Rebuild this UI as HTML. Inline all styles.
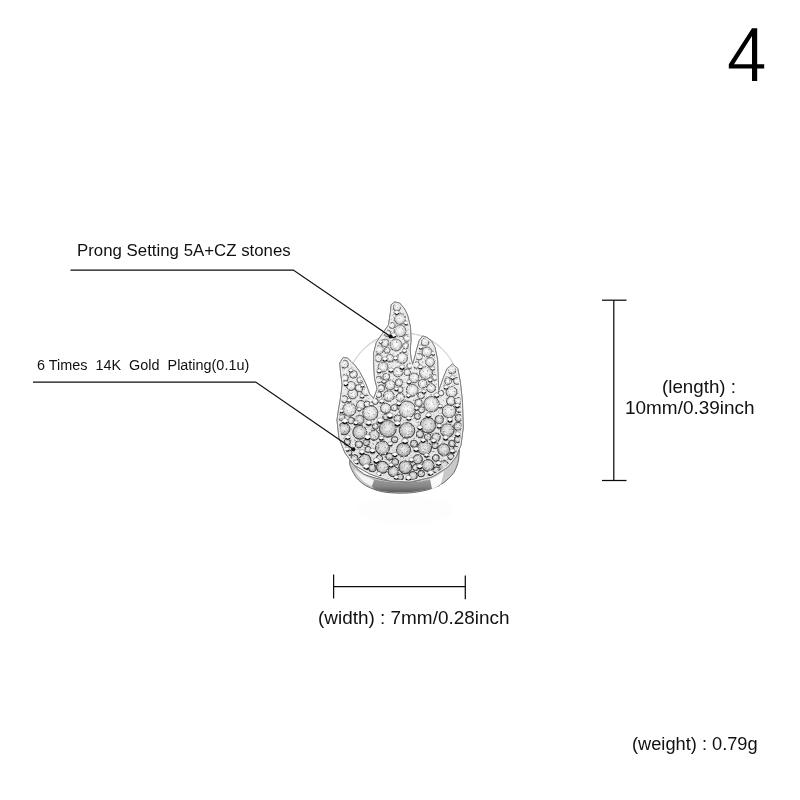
<!DOCTYPE html>
<html><head><meta charset="utf-8"><style>
html,body{margin:0;padding:0;background:#fff;}
body{width:800px;height:800px;position:relative;overflow:hidden;font-family:"Liberation Sans",sans-serif;color:#111;}
.t{position:absolute;white-space:pre;line-height:1;transform-origin:0 0;}
svg{position:absolute;left:0;top:0;}
</style></head><body>
<svg width="800" height="800" viewBox="0 0 800 800">
<defs>
<radialGradient id="st" cx="50%" cy="45%" r="55%"><stop offset="0" stop-color="#ffffff"/><stop offset="0.45" stop-color="#ececec"/><stop offset="0.8" stop-color="#c8c8c8"/><stop offset="1" stop-color="#6a6a6a"/></radialGradient>
<radialGradient id="bd" cx="42%" cy="32%" r="68%"><stop offset="0" stop-color="#ffffff"/><stop offset="0.45" stop-color="#f0f0f0"/><stop offset="0.75" stop-color="#909090"/><stop offset="1" stop-color="#1a1a1a"/></radialGradient>
<linearGradient id="shank" x1="0" y1="0" x2="0" y2="1"><stop offset="0" stop-color="#e8e8e8"/><stop offset="0.5" stop-color="#bdbdbd"/><stop offset="0.8" stop-color="#777"/><stop offset="1" stop-color="#333"/></linearGradient>
<clipPath id="fc"><path d="M394.75,302.00 L399.50,303.00 L404.00,308.00 L407.50,315.00 L410.50,327.00 L411.00,340.00 L410.20,350.00 L411.00,358.00 L412.60,364.50 L414.50,358.00 L416.50,350.00 L419.25,340.50 L422.75,336.00 L427.00,337.50 L431.50,341.00 L435.00,347.50 L437.60,359.75 L438.00,374.00 L438.80,390.50 L441.50,383.00 L444.00,376.00 L447.25,368.50 L452.50,364.10 L457.75,368.50 L460.40,382.50 L462.50,402.50 L463.20,428.00 L461.00,445.00 L456.00,457.00 L448.00,467.00 L432.00,477.00 L410.00,482.00 L390.00,481.00 L370.00,474.00 L354.00,465.00 L345.00,453.00 L339.00,438.00 L337.00,420.00 L338.30,411.00 L340.50,398.00 L342.20,385.00 L340.50,372.00 L339.80,363.00 L343.10,357.60 L347.50,358.20 L351.00,361.50 L355.50,366.00 L359.75,372.00 L363.50,379.00 L366.75,386.00 L369.50,394.00 L373.50,398.50 L377.20,389.00 L374.50,378.00 L373.75,365.00 L373.75,352.75 L376.40,342.25 L382.50,333.50 L388.60,324.75 L390.40,312.50 L391.25,304.60Z"/></clipPath>
<filter id="nz" x="0" y="0" width="100%" height="100%"><feTurbulence type="fractalNoise" baseFrequency="0.55" numOctaves="2" seed="5"/><feColorMatrix type="matrix" values="0 0 0 0 0  0 0 0 0 0  0 0 0 0 0  5 0 0 0 -2.9"/></filter>
<filter id="nz2" x="0" y="0" width="100%" height="100%"><feTurbulence type="fractalNoise" baseFrequency="0.6" numOctaves="2" seed="11"/><feColorMatrix type="matrix" values="0 0 0 0 1  0 0 0 0 1  0 0 0 0 1  5 0 0 0 -2.9"/></filter>
<linearGradient id="shd" x1="0" y1="0" x2="0" y2="1"><stop offset="0" stop-color="#a0a0a0"/><stop offset="0.6" stop-color="#858585"/><stop offset="1" stop-color="#5a5a5a"/></linearGradient>
<radialGradient id="st2" cx="50%" cy="45%" r="55%"><stop offset="0" stop-color="#f2f2f2"/><stop offset="0.45" stop-color="#dcdcdc"/><stop offset="0.8" stop-color="#b4b4b4"/><stop offset="1" stop-color="#4a4a4a"/></radialGradient>
<linearGradient id="dk" x1="0" y1="0" x2="0" y2="1"><stop offset="0" stop-color="#000" stop-opacity="0"/><stop offset="0.45" stop-color="#000" stop-opacity="0"/><stop offset="1" stop-color="#000" stop-opacity="0.05"/></linearGradient>
</defs>
<circle cx="403" cy="389" r="56" fill="none" stroke="#d6d6d6" stroke-width="1.3"/>
<path d="M349.75,464.6 C352,471 354,474 356.25,477.6 C360,482 364,485 369.25,487.4 C375,490 380,491.5 385.5,492.25 C393,493.2 400,493.3 408.25,493 C415,492.5 421,491.5 427.75,489.8 C434,488 439,485.5 444,482.5 C448,479.5 451,476 453.75,472.75 C456,469 457.5,465 458.6,459.75 L459.4,450 L455.4,456.5 C452,462 449,465 445.6,467.9 C441,471.5 436,474 431,476 C425,478.5 419,480.5 413,481.7 C405,482.5 396,482 388.75,480.9 C380,479.5 371,477 364.4,474.4 C358,470 354,466 349.75,459.75 Z" fill="#c9c9c9" stroke="#5a5a5a" stroke-width="0.9"/>
<path d="M372,479 C392,484 418,484 436,478 L440,486 C420,493 394,494 376,490 C372,488 370,484 372,479Z" fill="url(#shd)"/>
<path d="M354,469 C358,477 364,483 372,486 L374,480 C366,477 359,473 354,469Z" fill="#f4f4f4"/>
<path d="M430,479 C436,477 440,474 444,471 L441,484 C438,486 435,488 432,489Z" fill="#fafafa"/>
<ellipse cx="405" cy="510" rx="48" ry="14" fill="#fdfdfd"/>
<path d="M394.75,302.00 L399.50,303.00 L404.00,308.00 L407.50,315.00 L410.50,327.00 L411.00,340.00 L410.20,350.00 L411.00,358.00 L412.60,364.50 L414.50,358.00 L416.50,350.00 L419.25,340.50 L422.75,336.00 L427.00,337.50 L431.50,341.00 L435.00,347.50 L437.60,359.75 L438.00,374.00 L438.80,390.50 L441.50,383.00 L444.00,376.00 L447.25,368.50 L452.50,364.10 L457.75,368.50 L460.40,382.50 L462.50,402.50 L463.20,428.00 L461.00,445.00 L456.00,457.00 L448.00,467.00 L432.00,477.00 L410.00,482.00 L390.00,481.00 L370.00,474.00 L354.00,465.00 L345.00,453.00 L339.00,438.00 L337.00,420.00 L338.30,411.00 L340.50,398.00 L342.20,385.00 L340.50,372.00 L339.80,363.00 L343.10,357.60 L347.50,358.20 L351.00,361.50 L355.50,366.00 L359.75,372.00 L363.50,379.00 L366.75,386.00 L369.50,394.00 L373.50,398.50 L377.20,389.00 L374.50,378.00 L373.75,365.00 L373.75,352.75 L376.40,342.25 L382.50,333.50 L388.60,324.75 L390.40,312.50 L391.25,304.60Z" fill="#eaeaea" stroke="#777" stroke-width="1"/>
<g clip-path="url(#fc)">
<circle cx="407.0" cy="409.5" r="8.5" fill="url(#st)" stroke="#434343" stroke-width="0.82375"/>
<circle cx="431.5" cy="404.3" r="7.8" fill="url(#st)" stroke="#454545" stroke-width="0.8107500000000001"/>
<circle cx="387.8" cy="428.8" r="8.5" fill="url(#st2)" stroke="#3d3d3d" stroke-width="0.8720000000000001"/>
<circle cx="407.0" cy="430.5" r="7.8" fill="url(#st2)" stroke="#3d3d3d" stroke-width="0.87625"/>
<circle cx="428.0" cy="425.3" r="7.8" fill="url(#st2)" stroke="#3e3e3e" stroke-width="0.8632500000000001"/>
<circle cx="370.3" cy="413.0" r="7.6" fill="url(#st)" stroke="#424242" stroke-width="0.8325"/>
<circle cx="349.3" cy="409.5" r="6.8" fill="url(#st)" stroke="#434343" stroke-width="0.82375"/>
<circle cx="449.0" cy="411.3" r="6.8" fill="url(#st)" stroke="#434343" stroke-width="0.82825"/>
<circle cx="382.5" cy="448.0" r="7.0" fill="url(#st2)" stroke="#373737" stroke-width="0.92"/>
<circle cx="403.5" cy="449.8" r="7.0" fill="url(#st2)" stroke="#373737" stroke-width="0.9245000000000001"/>
<circle cx="424.5" cy="448.0" r="7.0" fill="url(#st2)" stroke="#373737" stroke-width="0.92"/>
<circle cx="443.8" cy="449.8" r="6.0" fill="url(#st2)" stroke="#373737" stroke-width="0.9245000000000001"/>
<circle cx="359.8" cy="432.3" r="7.0" fill="url(#st2)" stroke="#3c3c3c" stroke-width="0.88075"/>
<circle cx="344.0" cy="428.8" r="6.0" fill="url(#st2)" stroke="#3d3d3d" stroke-width="0.8720000000000001"/>
<circle cx="447.3" cy="430.5" r="6.8" fill="url(#st2)" stroke="#3d3d3d" stroke-width="0.87625"/>
<circle cx="405.3" cy="467.3" r="6.5" fill="url(#st2)" stroke="#343434" stroke-width="0.95"/>
<circle cx="382.5" cy="467.3" r="6.0" fill="url(#st2)" stroke="#343434" stroke-width="0.95"/>
<circle cx="428.0" cy="465.5" r="6.0" fill="url(#st2)" stroke="#343434" stroke-width="0.95"/>
<circle cx="365.0" cy="460.3" r="6.0" fill="url(#st2)" stroke="#343434" stroke-width="0.95"/>
<circle cx="443.8" cy="465.5" r="5.0" fill="url(#st2)" stroke="#343434" stroke-width="0.95"/>
<circle cx="352.8" cy="393.8" r="5.0" fill="url(#st)" stroke="#484848" stroke-width="0.7845"/>
<circle cx="366.0" cy="391.3" r="4.5" fill="url(#st)" stroke="#494949" stroke-width="0.7782500000000001"/>
<circle cx="388.8" cy="396.0" r="5.5" fill="url(#st)" stroke="#484848" stroke-width="0.79"/>
<circle cx="412.3" cy="390.3" r="6.0" fill="url(#st)" stroke="#4a4a4a" stroke-width="0.77575"/>
<circle cx="451.5" cy="392.0" r="5.5" fill="url(#st)" stroke="#494949" stroke-width="0.78"/>
<circle cx="397.0" cy="307.0" r="4.0" fill="url(#st)" stroke="#5a5a5a" stroke-width="0.65"/>
<circle cx="400.0" cy="319.0" r="5.5" fill="url(#st)" stroke="#5a5a5a" stroke-width="0.65"/>
<circle cx="400.0" cy="331.0" r="6.0" fill="url(#st)" stroke="#5a5a5a" stroke-width="0.65"/>
<circle cx="396.0" cy="345.0" r="6.0" fill="url(#st)" stroke="#585858" stroke-width="0.6625"/>
<circle cx="385.0" cy="343.0" r="4.0" fill="url(#st)" stroke="#595959" stroke-width="0.6575"/>
<circle cx="383.0" cy="367.0" r="5.0" fill="url(#st)" stroke="#515151" stroke-width="0.7175"/>
<circle cx="390.0" cy="385.0" r="5.0" fill="url(#st)" stroke="#4b4b4b" stroke-width="0.7625"/>
<circle cx="402.0" cy="358.0" r="5.5" fill="url(#st)" stroke="#545454" stroke-width="0.6950000000000001"/>
<circle cx="398.0" cy="372.0" r="5.0" fill="url(#st)" stroke="#4f4f4f" stroke-width="0.73"/>
<circle cx="425.0" cy="342.0" r="4.0" fill="url(#st)" stroke="#595959" stroke-width="0.655"/>
<circle cx="427.0" cy="352.0" r="5.0" fill="url(#st)" stroke="#565656" stroke-width="0.68"/>
<circle cx="430.0" cy="362.0" r="4.5" fill="url(#st)" stroke="#535353" stroke-width="0.7050000000000001"/>
<circle cx="426.0" cy="373.0" r="6.5" fill="url(#st)" stroke="#4f4f4f" stroke-width="0.7325"/>
<circle cx="414.0" cy="378.0" r="5.0" fill="url(#st)" stroke="#4d4d4d" stroke-width="0.745"/>
<circle cx="431.0" cy="388.0" r="4.5" fill="url(#st)" stroke="#4a4a4a" stroke-width="0.77"/>
<circle cx="452.0" cy="370.0" r="4.0" fill="url(#st)" stroke="#505050" stroke-width="0.725"/>
<circle cx="448.0" cy="381.0" r="3.5" fill="url(#st)" stroke="#4d4d4d" stroke-width="0.7525000000000001"/>
<circle cx="457.0" cy="381.0" r="3.5" fill="url(#st)" stroke="#4d4d4d" stroke-width="0.7525000000000001"/>
<circle cx="451.0" cy="401.0" r="4.5" fill="url(#st)" stroke="#464646" stroke-width="0.8025"/>
<circle cx="458.0" cy="401.0" r="3.5" fill="url(#st)" stroke="#464646" stroke-width="0.8025"/>
<circle cx="351.0" cy="386.0" r="4.5" fill="url(#st)" stroke="#4b4b4b" stroke-width="0.765"/>
<circle cx="359.0" cy="388.0" r="3.8" fill="url(#st)" stroke="#4a4a4a" stroke-width="0.77"/>
<circle cx="345.0" cy="378.0" r="3.5" fill="url(#st)" stroke="#4d4d4d" stroke-width="0.745"/>
<circle cx="361.0" cy="405.0" r="4.5" fill="url(#st)" stroke="#454545" stroke-width="0.8125"/>
<circle cx="367.0" cy="404.0" r="3.0" fill="url(#st)" stroke="#454545" stroke-width="0.81"/>
<circle cx="458.0" cy="426.4" r="4.1" fill="url(#st2)" stroke="#3e3e3e" stroke-width="0.8659008481397099"/>
<circle cx="393.2" cy="471.5" r="5.2" fill="url(#st2)" stroke="#343434" stroke-width="0.95"/>
<circle cx="436.1" cy="437.3" r="4.1" fill="url(#st2)" stroke="#3b3b3b" stroke-width="0.8931892603724347"/>
<circle cx="358.9" cy="444.4" r="3.7" fill="url(#st2)" stroke="#383838" stroke-width="0.9110294596917765"/>
<circle cx="400.2" cy="397.3" r="4.2" fill="url(#st)" stroke="#474747" stroke-width="0.7933099203144397"/>
<circle cx="441.0" cy="393.1" r="2.9" fill="url(#st)" stroke="#494949" stroke-width="0.7827505417943172"/>
<circle cx="398.9" cy="382.5" r="3.7" fill="url(#st)" stroke="#4c4c4c" stroke-width="0.7562228374777685"/>
<circle cx="349.0" cy="452.7" r="2.9" fill="url(#st2)" stroke="#363636" stroke-width="0.9318642677020655"/>
<circle cx="374.1" cy="435.2" r="5.1" fill="url(#st2)" stroke="#3b3b3b" stroke-width="0.8881073710357842"/>
<circle cx="407.3" cy="372.2" r="3.4" fill="url(#st)" stroke="#4f4f4f" stroke-width="0.7304232582992479"/>
<circle cx="458.7" cy="418.0" r="3.7" fill="url(#st2)" stroke="#414141" stroke-width="0.844893355008443"/>
<circle cx="421.2" cy="473.6" r="3.3" fill="url(#st2)" stroke="#343434" stroke-width="0.95"/>
<circle cx="379.4" cy="349.8" r="4.3" fill="url(#st)" stroke="#565656" stroke-width="0.6745839582066923"/>
<circle cx="344.4" cy="364.2" r="4.0" fill="url(#st)" stroke="#525252" stroke-width="0.7105355598910035"/>
<circle cx="417.7" cy="459.4" r="4.7" fill="url(#st2)" stroke="#343434" stroke-width="0.9486131619807605"/>
<circle cx="418.6" cy="402.9" r="3.8" fill="url(#st)" stroke="#464646" stroke-width="0.8072665132462943"/>
<circle cx="416.4" cy="365.1" r="3.3" fill="url(#st)" stroke="#525252" stroke-width="0.7126948058495702"/>
<circle cx="395.1" cy="462.0" r="3.5" fill="url(#st2)" stroke="#343434" stroke-width="0.95"/>
<circle cx="359.4" cy="419.8" r="4.7" fill="url(#st2)" stroke="#404040" stroke-width="0.8494290370500424"/>
<circle cx="451.9" cy="443.5" r="3.3" fill="url(#st2)" stroke="#393939" stroke-width="0.9086975824180641"/>
<circle cx="417.5" cy="416.4" r="3.1" fill="url(#st2)" stroke="#414141" stroke-width="0.8410277036449583"/>
<circle cx="378.4" cy="358.0" r="3.7" fill="url(#st)" stroke="#545454" stroke-width="0.6950705031959735"/>
<circle cx="394.6" cy="439.6" r="3.2" fill="url(#st2)" stroke="#3a3a3a" stroke-width="0.8989237016220483"/>
<circle cx="390.0" cy="358.3" r="3.9" fill="url(#st)" stroke="#545454" stroke-width="0.6957032672452134"/>
<circle cx="385.6" cy="408.3" r="5.1" fill="url(#st)" stroke="#444444" stroke-width="0.8208266518216971"/>
<circle cx="368.1" cy="449.5" r="3.1" fill="url(#st2)" stroke="#373737" stroke-width="0.9238478072328453"/>
<circle cx="378.9" cy="379.7" r="3.4" fill="url(#st)" stroke="#4d4d4d" stroke-width="0.7492787119797207"/>
<circle cx="375.3" cy="426.4" r="3.0" fill="url(#st2)" stroke="#3e3e3e" stroke-width="0.865994277935226"/>
<circle cx="413.1" cy="475.7" r="4.1" fill="url(#st2)" stroke="#343434" stroke-width="0.95"/>
<circle cx="405.6" cy="345.7" r="3.1" fill="url(#st)" stroke="#585858" stroke-width="0.6642332038346683"/>
<circle cx="397.5" cy="418.5" r="3.7" fill="url(#st2)" stroke="#414141" stroke-width="0.8461661799260218"/>
<circle cx="435.8" cy="458.0" r="3.4" fill="url(#st2)" stroke="#343434" stroke-width="0.9449817386521205"/>
<circle cx="378.8" cy="394.8" r="3.0" fill="url(#st)" stroke="#484848" stroke-width="0.7870852545229358"/>
<circle cx="439.3" cy="419.6" r="4.1" fill="url(#st2)" stroke="#404040" stroke-width="0.848936568165961"/>
<circle cx="353.4" cy="374.3" r="3.9" fill="url(#st)" stroke="#4f4f4f" stroke-width="0.7358087928728162"/>
<circle cx="427.8" cy="436.9" r="3.5" fill="url(#st2)" stroke="#3b3b3b" stroke-width="0.8923733394639548"/>
<circle cx="387.5" cy="333.4" r="3.3" fill="url(#st)" stroke="#5a5a5a" stroke-width="0.65"/>
<circle cx="414.0" cy="443.8" r="3.6" fill="url(#st2)" stroke="#393939" stroke-width="0.9095779760526317"/>
<circle cx="347.2" cy="442.2" r="3.2" fill="url(#st2)" stroke="#393939" stroke-width="0.9055145535515459"/>
<circle cx="359.9" cy="380.0" r="3.1" fill="url(#st)" stroke="#4d4d4d" stroke-width="0.7499705268799163"/>
<circle cx="344.4" cy="399.2" r="3.5" fill="url(#st)" stroke="#474747" stroke-width="0.7981017749465962"/>
<circle cx="366.3" cy="442.5" r="3.3" fill="url(#st2)" stroke="#393939" stroke-width="0.9063478836768948"/>
<circle cx="372.3" cy="468.0" r="3.8" fill="url(#st2)" stroke="#343434" stroke-width="0.95"/>
<circle cx="354.4" cy="458.4" r="3.8" fill="url(#st2)" stroke="#343434" stroke-width="0.9460447407550527"/>
<circle cx="421.1" cy="395.5" r="3.4" fill="url(#st)" stroke="#484848" stroke-width="0.7887283713343944"/>
<circle cx="386.2" cy="376.8" r="3.5" fill="url(#st)" stroke="#4e4e4e" stroke-width="0.741980180294244"/>
<circle cx="341.5" cy="417.1" r="3.5" fill="url(#st2)" stroke="#414141" stroke-width="0.8428241517249427"/>
<circle cx="351.0" cy="420.6" r="3.4" fill="url(#st2)" stroke="#404040" stroke-width="0.8514688733801598"/>
<circle cx="386.0" cy="416.9" r="3.1" fill="url(#st2)" stroke="#414141" stroke-width="0.8422654473740571"/>
<circle cx="389.4" cy="456.6" r="3.6" fill="url(#st2)" stroke="#353535" stroke-width="0.9416042935214193"/>
<circle cx="457.8" cy="439.3" r="3.4" fill="url(#st2)" stroke="#3a3a3a" stroke-width="0.8983649216106864"/>
<circle cx="375.3" cy="401.5" r="3.0" fill="url(#st)" stroke="#464646" stroke-width="0.8036811799100871"/>
<circle cx="419.9" cy="434.2" r="3.7" fill="url(#st2)" stroke="#3c3c3c" stroke-width="0.8855080817008454"/>
<circle cx="381.1" cy="388.2" r="3.5" fill="url(#st)" stroke="#4a4a4a" stroke-width="0.7705144837413949"/>
<circle cx="409.6" cy="365.9" r="2.8" fill="url(#st)" stroke="#515151" stroke-width="0.714817483022928"/>
<circle cx="419.0" cy="356.6" r="3.5" fill="url(#st)" stroke="#545454" stroke-width="0.6914447087654375"/>
<circle cx="459.1" cy="409.5" r="3.1" fill="url(#st)" stroke="#434343" stroke-width="0.8238171733884176"/>
<circle cx="450.9" cy="456.6" r="3.1" fill="url(#st2)" stroke="#353535" stroke-width="0.9414842152884211"/>
<circle cx="436.3" cy="470.0" r="3.1" fill="url(#st2)" stroke="#343434" stroke-width="0.95"/>
<circle cx="379.4" cy="458.3" r="3.2" fill="url(#st2)" stroke="#343434" stroke-width="0.9457255379458134"/>
<circle cx="421.6" cy="409.8" r="3.0" fill="url(#st)" stroke="#434343" stroke-width="0.8244469209866634"/>
<circle cx="400.2" cy="477.1" r="3.2" fill="url(#st2)" stroke="#343434" stroke-width="0.95"/>
<circle cx="392.1" cy="325.4" r="3.1" fill="url(#st)" stroke="#5a5a5a" stroke-width="0.65"/>
<circle cx="422.6" cy="383.8" r="4.4" fill="url(#st)" stroke="#4c4c4c" stroke-width="0.7595365688990576"/>
<circle cx="387.1" cy="350.3" r="3.0" fill="url(#st)" stroke="#565656" stroke-width="0.675834330087746"/>
<circle cx="455.8" cy="449.0" r="2.8" fill="url(#st2)" stroke="#373737" stroke-width="0.9224568633601601"/>
<circle cx="394.3" cy="407.8" r="3.2" fill="url(#st)" stroke="#444444" stroke-width="0.8194891208261125"/>
<circle cx="406.9" cy="338.1" r="3.5" fill="url(#st)" stroke="#5a5a5a" stroke-width="0.65"/>
<circle cx="435.1" cy="445.4" r="3.3" fill="url(#st2)" stroke="#383838" stroke-width="0.9134189273726437"/>
<circle cx="400.1" cy="389.6" r="3.1" fill="url(#st)" stroke="#4a4a4a" stroke-width="0.7739852267207459"/>
<circle cx="415.5" cy="467.5" r="3.1" fill="url(#st2)" stroke="#343434" stroke-width="0.95"/>
<circle cx="434.8" cy="377.5" r="2.9" fill="url(#st)" stroke="#4e4e4e" stroke-width="0.7437781612702357"/>
<rect x="330" y="295" width="140" height="195" fill="#000" filter="url(#nz)" opacity="0.3"/>
<rect x="330" y="295" width="140" height="195" fill="#fff" filter="url(#nz2)" opacity="0.8"/>
<rect x="330" y="295" width="140" height="195" fill="url(#dk)"/>
<circle cx="391.0" cy="370.6" r="2.8" fill="#fbfbfb" stroke="#555" stroke-width="0.45"/>
<path d="M388.9,370.8 A2.2,2.2 0 0 0 393.0,370.8" fill="none" stroke="#0c0c0c" stroke-width="1.17"/>
<circle cx="426.5" cy="455.6" r="2.5" fill="#fbfbfb" stroke="#555" stroke-width="0.45"/>
<path d="M424.6,455.8 A2.0,2.0 0 0 0 428.4,455.8" fill="none" stroke="#0c0c0c" stroke-width="1.26"/>
<circle cx="452.4" cy="451.6" r="2.8" fill="#fbfbfb" stroke="#555" stroke-width="0.45"/>
<path d="M450.4,451.8 A2.2,2.2 0 0 0 454.5,451.8" fill="none" stroke="#0c0c0c" stroke-width="1.36"/>
<circle cx="349.1" cy="400.7" r="2.2" fill="#fbfbfb" stroke="#555" stroke-width="0.45"/>
<path d="M347.5,400.9 A1.7,1.7 0 0 0 350.8,400.9" fill="none" stroke="#0c0c0c" stroke-width="0.97"/>
<circle cx="350.8" cy="370.7" r="2.2" fill="#fbfbfb" stroke="#555" stroke-width="0.45"/>
<path d="M349.2,370.9 A1.7,1.7 0 0 0 352.5,370.9" fill="none" stroke="#0c0c0c" stroke-width="0.92"/>
<circle cx="433.2" cy="353.7" r="2.3" fill="#fbfbfb" stroke="#555" stroke-width="0.45"/>
<path d="M431.5,353.9 A1.8,1.8 0 0 0 435.0,353.9" fill="none" stroke="#0c0c0c" stroke-width="0.95"/>
<circle cx="396.4" cy="389.3" r="2.3" fill="#fbfbfb" stroke="#555" stroke-width="0.45"/>
<path d="M394.7,389.5 A1.8,1.8 0 0 0 398.1,389.5" fill="none" stroke="#0c0c0c" stroke-width="1.01"/>
<circle cx="428.4" cy="415.7" r="2.9" fill="#fbfbfb" stroke="#555" stroke-width="0.45"/>
<path d="M426.2,416.0 A2.3,2.3 0 0 0 430.5,416.0" fill="none" stroke="#0c0c0c" stroke-width="1.33"/>
<circle cx="367.5" cy="437.8" r="3.3" fill="#fbfbfb" stroke="#555" stroke-width="0.45"/>
<path d="M365.1,438.1 A2.6,2.6 0 0 0 370.0,438.1" fill="none" stroke="#0c0c0c" stroke-width="1.58"/>
<circle cx="408.5" cy="478.4" r="3.0" fill="#fbfbfb" stroke="#555" stroke-width="0.45"/>
<path d="M406.2,478.7 A2.4,2.4 0 0 0 410.8,478.7" fill="none" stroke="#0c0c0c" stroke-width="1.52"/>
<circle cx="362.0" cy="452.5" r="2.9" fill="#fbfbfb" stroke="#555" stroke-width="0.45"/>
<path d="M359.8,452.8 A2.3,2.3 0 0 0 364.2,452.8" fill="none" stroke="#0c0c0c" stroke-width="1.44"/>
<circle cx="449.9" cy="420.3" r="2.9" fill="#fbfbfb" stroke="#555" stroke-width="0.45"/>
<path d="M447.8,420.6 A2.3,2.3 0 0 0 452.1,420.6" fill="none" stroke="#0c0c0c" stroke-width="1.33"/>
<circle cx="405.0" cy="441.6" r="3.1" fill="#fbfbfb" stroke="#555" stroke-width="0.45"/>
<path d="M402.7,441.9 A2.5,2.5 0 0 0 407.4,441.9" fill="none" stroke="#0c0c0c" stroke-width="1.49"/>
<circle cx="381.8" cy="401.7" r="2.6" fill="#fbfbfb" stroke="#555" stroke-width="0.45"/>
<path d="M379.9,401.9 A2.1,2.1 0 0 0 383.8,401.9" fill="none" stroke="#0c0c0c" stroke-width="1.18"/>
<circle cx="344.9" cy="421.5" r="3.1" fill="#fbfbfb" stroke="#555" stroke-width="0.45"/>
<path d="M342.6,421.9 A2.5,2.5 0 0 0 347.3,421.9" fill="none" stroke="#0c0c0c" stroke-width="1.47"/>
<circle cx="436.6" cy="395.7" r="2.8" fill="#fbfbfb" stroke="#555" stroke-width="0.45"/>
<path d="M434.5,396.0 A2.3,2.3 0 0 0 438.7,396.0" fill="none" stroke="#0c0c0c" stroke-width="1.26"/>
<circle cx="381.3" cy="438.6" r="2.5" fill="#fbfbfb" stroke="#555" stroke-width="0.45"/>
<path d="M379.4,438.8 A2.0,2.0 0 0 0 383.2,438.8" fill="none" stroke="#0c0c0c" stroke-width="1.23"/>
<circle cx="430.8" cy="473.4" r="3.1" fill="#fbfbfb" stroke="#555" stroke-width="0.45"/>
<path d="M428.5,473.7 A2.4,2.4 0 0 0 433.1,473.7" fill="none" stroke="#0c0c0c" stroke-width="1.53"/>
<circle cx="376.4" cy="461.0" r="3.2" fill="#fbfbfb" stroke="#555" stroke-width="0.45"/>
<path d="M374.0,461.3 A2.5,2.5 0 0 0 378.8,461.3" fill="none" stroke="#0c0c0c" stroke-width="1.59"/>
<circle cx="368.7" cy="423.5" r="3.1" fill="#fbfbfb" stroke="#555" stroke-width="0.45"/>
<path d="M366.4,423.8 A2.5,2.5 0 0 0 371.0,423.8" fill="none" stroke="#0c0c0c" stroke-width="1.46"/>
<circle cx="457.7" cy="434.6" r="2.9" fill="#fbfbfb" stroke="#555" stroke-width="0.45"/>
<path d="M455.5,434.9 A2.3,2.3 0 0 0 459.9,434.9" fill="none" stroke="#0c0c0c" stroke-width="1.40"/>
<circle cx="439.2" cy="426.4" r="2.7" fill="#fbfbfb" stroke="#555" stroke-width="0.45"/>
<path d="M437.2,426.7 A2.2,2.2 0 0 0 441.3,426.7" fill="none" stroke="#0c0c0c" stroke-width="1.28"/>
<circle cx="411.4" cy="460.4" r="2.7" fill="#fbfbfb" stroke="#555" stroke-width="0.45"/>
<path d="M409.4,460.6 A2.1,2.1 0 0 0 413.4,460.6" fill="none" stroke="#0c0c0c" stroke-width="1.33"/>
<circle cx="384.9" cy="359.5" r="2.8" fill="#fbfbfb" stroke="#555" stroke-width="0.45"/>
<path d="M382.8,359.7 A2.2,2.2 0 0 0 387.0,359.7" fill="none" stroke="#0c0c0c" stroke-width="1.16"/>
<circle cx="393.6" cy="335.7" r="2.9" fill="#fbfbfb" stroke="#555" stroke-width="0.45"/>
<path d="M391.4,336.0 A2.3,2.3 0 0 0 395.7,336.0" fill="none" stroke="#0c0c0c" stroke-width="1.16"/>
<circle cx="416.6" cy="408.6" r="2.3" fill="#fbfbfb" stroke="#555" stroke-width="0.45"/>
<path d="M414.8,408.9 A1.8,1.8 0 0 0 418.3,408.9" fill="none" stroke="#0c0c0c" stroke-width="1.04"/>
<circle cx="420.3" cy="367.4" r="2.4" fill="#fbfbfb" stroke="#555" stroke-width="0.45"/>
<path d="M418.5,367.6 A2.0,2.0 0 0 0 422.2,367.6" fill="none" stroke="#0c0c0c" stroke-width="1.04"/>
<circle cx="359.2" cy="409.7" r="2.1" fill="#fbfbfb" stroke="#555" stroke-width="0.45"/>
<path d="M357.6,409.9 A1.7,1.7 0 0 0 360.8,409.9" fill="none" stroke="#0c0c0c" stroke-width="0.97"/>
<circle cx="362.1" cy="396.5" r="2.4" fill="#fbfbfb" stroke="#555" stroke-width="0.45"/>
<path d="M360.4,396.8 A1.9,1.9 0 0 0 363.9,396.8" fill="none" stroke="#0c0c0c" stroke-width="1.06"/>
<circle cx="378.8" cy="474.4" r="2.6" fill="#fbfbfb" stroke="#555" stroke-width="0.45"/>
<path d="M376.9,474.7 A2.1,2.1 0 0 0 380.8,474.7" fill="none" stroke="#0c0c0c" stroke-width="1.32"/>
<circle cx="394.9" cy="454.9" r="2.7" fill="#fbfbfb" stroke="#555" stroke-width="0.45"/>
<path d="M392.9,455.1 A2.1,2.1 0 0 0 396.9,455.1" fill="none" stroke="#0c0c0c" stroke-width="1.33"/>
<circle cx="380.2" cy="421.1" r="3.3" fill="#fbfbfb" stroke="#555" stroke-width="0.45"/>
<path d="M377.8,421.4 A2.6,2.6 0 0 0 382.7,421.4" fill="none" stroke="#0c0c0c" stroke-width="1.53"/>
<circle cx="398.8" cy="404.0" r="2.5" fill="#fbfbfb" stroke="#555" stroke-width="0.45"/>
<path d="M396.9,404.2 A2.0,2.0 0 0 0 400.7,404.2" fill="none" stroke="#0c0c0c" stroke-width="1.14"/>
<circle cx="347.7" cy="437.6" r="2.8" fill="#fbfbfb" stroke="#555" stroke-width="0.45"/>
<path d="M345.7,437.9 A2.2,2.2 0 0 0 349.8,437.9" fill="none" stroke="#0c0c0c" stroke-width="1.32"/>
<circle cx="420.8" cy="347.3" r="2.4" fill="#fbfbfb" stroke="#555" stroke-width="0.45"/>
<path d="M418.9,347.6 A1.9,1.9 0 0 0 422.6,347.6" fill="none" stroke="#0c0c0c" stroke-width="0.99"/>
<circle cx="390.3" cy="444.3" r="2.6" fill="#fbfbfb" stroke="#555" stroke-width="0.45"/>
<path d="M388.4,444.6 A2.0,2.0 0 0 0 392.2,444.6" fill="none" stroke="#0c0c0c" stroke-width="1.24"/>
<circle cx="419.7" cy="467.0" r="2.9" fill="#fbfbfb" stroke="#555" stroke-width="0.45"/>
<path d="M417.5,467.3 A2.4,2.4 0 0 0 421.9,467.3" fill="none" stroke="#0c0c0c" stroke-width="1.47"/>
<circle cx="396.8" cy="312.9" r="2.6" fill="#fbfbfb" stroke="#555" stroke-width="0.45"/>
<path d="M394.8,313.1 A2.1,2.1 0 0 0 398.7,313.1" fill="none" stroke="#0c0c0c" stroke-width="1.06"/>
<circle cx="345.6" cy="383.7" r="2.8" fill="#fbfbfb" stroke="#555" stroke-width="0.45"/>
<path d="M343.5,383.9 A2.2,2.2 0 0 0 347.8,383.9" fill="none" stroke="#0c0c0c" stroke-width="1.23"/>
<circle cx="440.3" cy="406.6" r="2.4" fill="#fbfbfb" stroke="#555" stroke-width="0.45"/>
<path d="M438.5,406.9 A1.9,1.9 0 0 0 442.0,406.9" fill="none" stroke="#0c0c0c" stroke-width="1.08"/>
<circle cx="432.6" cy="368.9" r="2.2" fill="#fbfbfb" stroke="#555" stroke-width="0.45"/>
<path d="M431.0,369.1 A1.8,1.8 0 0 0 434.3,369.1" fill="none" stroke="#0c0c0c" stroke-width="0.93"/>
<circle cx="402.0" cy="367.5" r="2.8" fill="#fbfbfb" stroke="#555" stroke-width="0.45"/>
<path d="M399.9,367.8 A2.3,2.3 0 0 0 404.2,367.8" fill="none" stroke="#0c0c0c" stroke-width="1.19"/>
<circle cx="452.5" cy="378.1" r="2.5" fill="#fbfbfb" stroke="#555" stroke-width="0.45"/>
<path d="M450.7,378.3 A2.0,2.0 0 0 0 454.3,378.3" fill="none" stroke="#0c0c0c" stroke-width="1.06"/>
<circle cx="355.8" cy="423.2" r="2.5" fill="#fbfbfb" stroke="#555" stroke-width="0.45"/>
<path d="M353.9,423.5 A2.0,2.0 0 0 0 357.7,423.5" fill="none" stroke="#0c0c0c" stroke-width="1.19"/>
<circle cx="406.1" cy="323.3" r="2.4" fill="#fbfbfb" stroke="#555" stroke-width="0.45"/>
<path d="M404.3,323.6 A1.9,1.9 0 0 0 407.9,323.6" fill="none" stroke="#0c0c0c" stroke-width="0.96"/>
<circle cx="445.6" cy="438.2" r="2.8" fill="#fbfbfb" stroke="#555" stroke-width="0.45"/>
<path d="M443.5,438.5 A2.2,2.2 0 0 0 447.7,438.5" fill="none" stroke="#0c0c0c" stroke-width="1.33"/>
<circle cx="408.8" cy="418.7" r="2.6" fill="#fbfbfb" stroke="#555" stroke-width="0.45"/>
<path d="M406.9,418.9 A2.1,2.1 0 0 0 410.8,418.9" fill="none" stroke="#0c0c0c" stroke-width="1.23"/>
<circle cx="396.3" cy="477.7" r="2.5" fill="#fbfbfb" stroke="#555" stroke-width="0.45"/>
<path d="M394.4,478.0 A2.0,2.0 0 0 0 398.2,478.0" fill="none" stroke="#0c0c0c" stroke-width="1.27"/>
<circle cx="389.9" cy="416.1" r="3.3" fill="#fbfbfb" stroke="#555" stroke-width="0.45"/>
<path d="M387.5,416.4 A2.6,2.6 0 0 0 392.4,416.4" fill="none" stroke="#0c0c0c" stroke-width="1.52"/>
<circle cx="408.4" cy="395.9" r="2.3" fill="#fbfbfb" stroke="#555" stroke-width="0.45"/>
<path d="M406.7,396.2 A1.8,1.8 0 0 0 410.1,396.2" fill="none" stroke="#0c0c0c" stroke-width="1.02"/>
<circle cx="366.2" cy="467.1" r="3.3" fill="#fbfbfb" stroke="#555" stroke-width="0.45"/>
<path d="M363.7,467.4 A2.6,2.6 0 0 0 368.7,467.4" fill="none" stroke="#0c0c0c" stroke-width="1.64"/>
<circle cx="404.4" cy="351.2" r="2.3" fill="#fbfbfb" stroke="#555" stroke-width="0.45"/>
<path d="M402.7,351.4 A1.8,1.8 0 0 0 406.1,351.4" fill="none" stroke="#0c0c0c" stroke-width="0.94"/>
<circle cx="409.0" cy="382.3" r="2.4" fill="#fbfbfb" stroke="#555" stroke-width="0.45"/>
<path d="M407.2,382.6 A1.9,1.9 0 0 0 410.8,382.6" fill="none" stroke="#0c0c0c" stroke-width="1.05"/>
<circle cx="446.1" cy="387.5" r="2.4" fill="#fbfbfb" stroke="#555" stroke-width="0.45"/>
<path d="M444.3,387.8 A1.9,1.9 0 0 0 447.9,387.8" fill="none" stroke="#0c0c0c" stroke-width="1.05"/>
<circle cx="430.2" cy="380.5" r="2.4" fill="#fbfbfb" stroke="#555" stroke-width="0.45"/>
<path d="M428.4,380.7 A1.9,1.9 0 0 0 432.0,380.7" fill="none" stroke="#0c0c0c" stroke-width="1.03"/>
<circle cx="457.3" cy="406.1" r="2.7" fill="#fbfbfb" stroke="#555" stroke-width="0.45"/>
<path d="M455.3,406.3 A2.2,2.2 0 0 0 459.4,406.3" fill="none" stroke="#0c0c0c" stroke-width="1.24"/>
<circle cx="371.3" cy="404.6" r="2.1" fill="#fbfbfb" stroke="#555" stroke-width="0.45"/>
<path d="M369.8,404.8 A1.7,1.7 0 0 0 372.9,404.8" fill="none" stroke="#0c0c0c" stroke-width="0.95"/>
<circle cx="362.5" cy="385.6" r="2.2" fill="#fbfbfb" stroke="#555" stroke-width="0.45"/>
<path d="M360.8,385.9 A1.8,1.8 0 0 0 364.1,385.9" fill="none" stroke="#0c0c0c" stroke-width="0.97"/>
<circle cx="423.8" cy="391.8" r="2.4" fill="#fbfbfb" stroke="#555" stroke-width="0.45"/>
<path d="M422.0,392.0 A1.9,1.9 0 0 0 425.6,392.0" fill="none" stroke="#0c0c0c" stroke-width="1.07"/>
<circle cx="379.2" cy="371.4" r="2.5" fill="#fbfbfb" stroke="#555" stroke-width="0.45"/>
<path d="M377.3,371.6 A2.0,2.0 0 0 0 381.0,371.6" fill="none" stroke="#0c0c0c" stroke-width="1.05"/>
<circle cx="438.6" cy="463.7" r="2.8" fill="#fbfbfb" stroke="#555" stroke-width="0.45"/>
<path d="M436.5,464.0 A2.3,2.3 0 0 0 440.7,464.0" fill="none" stroke="#0c0c0c" stroke-width="1.41"/>
<circle cx="433.6" cy="441.3" r="2.7" fill="#fbfbfb" stroke="#555" stroke-width="0.45"/>
<path d="M431.6,441.5 A2.1,2.1 0 0 0 435.6,441.5" fill="none" stroke="#0c0c0c" stroke-width="1.29"/>
<circle cx="384.0" cy="382.0" r="2.1" fill="#fbfbfb" stroke="#555" stroke-width="0.45"/>
<path d="M382.4,382.2 A1.7,1.7 0 0 0 385.6,382.2" fill="none" stroke="#0c0c0c" stroke-width="0.93"/>
<circle cx="423.1" cy="440.7" r="2.6" fill="#fbfbfb" stroke="#555" stroke-width="0.45"/>
<path d="M421.1,440.9 A2.1,2.1 0 0 0 425.1,440.9" fill="none" stroke="#0c0c0c" stroke-width="1.27"/>
<circle cx="391.0" cy="465.6" r="2.6" fill="#fbfbfb" stroke="#555" stroke-width="0.45"/>
<path d="M389.1,465.8 A2.1,2.1 0 0 0 393.0,465.8" fill="none" stroke="#0c0c0c" stroke-width="1.29"/>
<circle cx="346.8" cy="449.6" r="2.6" fill="#fbfbfb" stroke="#555" stroke-width="0.45"/>
<path d="M344.8,449.9 A2.1,2.1 0 0 0 348.7,449.9" fill="none" stroke="#0c0c0c" stroke-width="1.28"/>
<circle cx="397.4" cy="424.1" r="3.2" fill="#fbfbfb" stroke="#555" stroke-width="0.45"/>
<path d="M395.0,424.4 A2.6,2.6 0 0 0 399.8,424.4" fill="none" stroke="#0c0c0c" stroke-width="1.52"/>
<circle cx="380.7" cy="342.1" r="2.1" fill="#fbfbfb" stroke="#555" stroke-width="0.45"/>
<path d="M379.1,342.3 A1.7,1.7 0 0 0 382.3,342.3" fill="none" stroke="#0c0c0c" stroke-width="0.85"/>
<circle cx="420.0" cy="427.9" r="2.7" fill="#fbfbfb" stroke="#555" stroke-width="0.45"/>
<path d="M418.0,428.2 A2.2,2.2 0 0 0 422.1,428.2" fill="none" stroke="#0c0c0c" stroke-width="1.30"/>
<circle cx="416.1" cy="449.7" r="2.8" fill="#fbfbfb" stroke="#555" stroke-width="0.45"/>
<path d="M414.0,449.9 A2.3,2.3 0 0 0 418.3,449.9" fill="none" stroke="#0c0c0c" stroke-width="1.39"/>
<circle cx="356.2" cy="462.6" r="2.6" fill="#fbfbfb" stroke="#555" stroke-width="0.45"/>
<path d="M354.3,462.8 A2.0,2.0 0 0 0 358.1,462.8" fill="none" stroke="#0c0c0c" stroke-width="1.28"/>
<circle cx="341.5" cy="411.4" r="2.3" fill="#fbfbfb" stroke="#555" stroke-width="0.45"/>
<path d="M339.8,411.6 A1.8,1.8 0 0 0 343.2,411.6" fill="none" stroke="#0c0c0c" stroke-width="1.05"/>
<circle cx="395.5" cy="358.6" r="2.4" fill="#fbfbfb" stroke="#555" stroke-width="0.45"/>
<path d="M393.7,358.8 A1.9,1.9 0 0 0 397.3,358.8" fill="none" stroke="#0c0c0c" stroke-width="0.99"/>
<circle cx="372.5" cy="451.2" r="3.1" fill="#fbfbfb" stroke="#555" stroke-width="0.45"/>
<path d="M370.2,451.5 A2.5,2.5 0 0 0 374.8,451.5" fill="none" stroke="#0c0c0c" stroke-width="1.53"/>
<path d="M394.75,302.00 L399.50,303.00 L404.00,308.00 L407.50,315.00 L410.50,327.00 L411.00,340.00 L410.20,350.00 L411.00,358.00 L412.60,364.50 L414.50,358.00 L416.50,350.00 L419.25,340.50 L422.75,336.00 L427.00,337.50 L431.50,341.00 L435.00,347.50 L437.60,359.75 L438.00,374.00 L438.80,390.50 L441.50,383.00 L444.00,376.00 L447.25,368.50 L452.50,364.10 L457.75,368.50 L460.40,382.50 L462.50,402.50 L463.20,428.00 L461.00,445.00 L456.00,457.00 L448.00,467.00 L432.00,477.00 L410.00,482.00 L390.00,481.00 L370.00,474.00 L354.00,465.00 L345.00,453.00 L339.00,438.00 L337.00,420.00 L338.30,411.00 L340.50,398.00 L342.20,385.00 L340.50,372.00 L339.80,363.00 L343.10,357.60 L347.50,358.20 L351.00,361.50 L355.50,366.00 L359.75,372.00 L363.50,379.00 L366.75,386.00 L369.50,394.00 L373.50,398.50 L377.20,389.00 L374.50,378.00 L373.75,365.00 L373.75,352.75 L376.40,342.25 L382.50,333.50 L388.60,324.75 L390.40,312.50 L391.25,304.60Z" fill="none" stroke="#f2f2f2" stroke-width="3.2"/>
</g>
<path d="M394.75,302.00 L399.50,303.00 L404.00,308.00 L407.50,315.00 L410.50,327.00 L411.00,340.00 L410.20,350.00 L411.00,358.00 L412.60,364.50 L414.50,358.00 L416.50,350.00 L419.25,340.50 L422.75,336.00 L427.00,337.50 L431.50,341.00 L435.00,347.50 L437.60,359.75 L438.00,374.00 L438.80,390.50 L441.50,383.00 L444.00,376.00 L447.25,368.50 L452.50,364.10 L457.75,368.50 L460.40,382.50 L462.50,402.50 L463.20,428.00 L461.00,445.00 L456.00,457.00 L448.00,467.00 L432.00,477.00 L410.00,482.00 L390.00,481.00 L370.00,474.00 L354.00,465.00 L345.00,453.00 L339.00,438.00 L337.00,420.00 L338.30,411.00 L340.50,398.00 L342.20,385.00 L340.50,372.00 L339.80,363.00 L343.10,357.60 L347.50,358.20 L351.00,361.50 L355.50,366.00 L359.75,372.00 L363.50,379.00 L366.75,386.00 L369.50,394.00 L373.50,398.50 L377.20,389.00 L374.50,378.00 L373.75,365.00 L373.75,352.75 L376.40,342.25 L382.50,333.50 L388.60,324.75 L390.40,312.50 L391.25,304.60Z" fill="none" stroke="#7a7a7a" stroke-width="0.9"/>
<g stroke="#0c0c0c" stroke-width="1.25" fill="none" stroke-linecap="butt">
<polyline points="70.5,270 293.3,270 390.5,336.5"/>
<polyline points="33,382 255.7,382 353.3,449.3"/>
<line x1="602" y1="300.2" x2="626.5" y2="300.2"/>
<line x1="602" y1="480.5" x2="626.5" y2="480.5"/>
<line x1="613.8" y1="300.2" x2="613.8" y2="480.5"/>
<line x1="333.6" y1="574.5" x2="333.6" y2="598.5"/>
<line x1="465.3" y1="575.5" x2="465.3" y2="599.3"/>
<line x1="333.6" y1="586.5" x2="465.3" y2="586.5"/>
</g>
<circle cx="390.5" cy="336.5" r="2.1" fill="#111"/>
<circle cx="353.3" cy="449.3" r="2.1" fill="#111"/>
<path d="M752,28.3 L757.2,28.3 L757.2,64.2 L764.2,64.2 L764.2,68.6 L757.2,68.6 L757.2,81 L752,81 L752,68.6 L728.8,68.6 L728.8,64.2 Z M752,36 L734,64.2 L752,64.2 Z" fill="#000" fill-rule="evenodd"/>
</svg>
<div class="t" style="left:76.65px;top:242.15px;font-size:17.2px;transform:scaleX(0.9790)">Prong Setting 5A+CZ stones</div>
<div class="t" style="left:36.68px;top:357.33px;font-size:15.2px;transform:scaleX(0.9486)">6 Times  14K  Gold  Plating(0.1u)</div>
<div class="t" style="left:661.87px;top:378.01px;font-size:18.2px;transform:scaleX(1.0308)">(length) :</div>
<div class="t" style="left:625.48px;top:399.41px;font-size:18.2px;transform:scaleX(1.0422)">10mm/0.39inch</div>
<div class="t" style="left:317.66px;top:610.35px;font-size:17.8px;transform:scaleX(1.0645)">(width) : 7mm/0.28inch</div>
<div class="t" style="left:631.81px;top:734.68px;font-size:18.0px;transform:scaleX(1.0126)">(weight) : 0.79g</div>
</body></html>
